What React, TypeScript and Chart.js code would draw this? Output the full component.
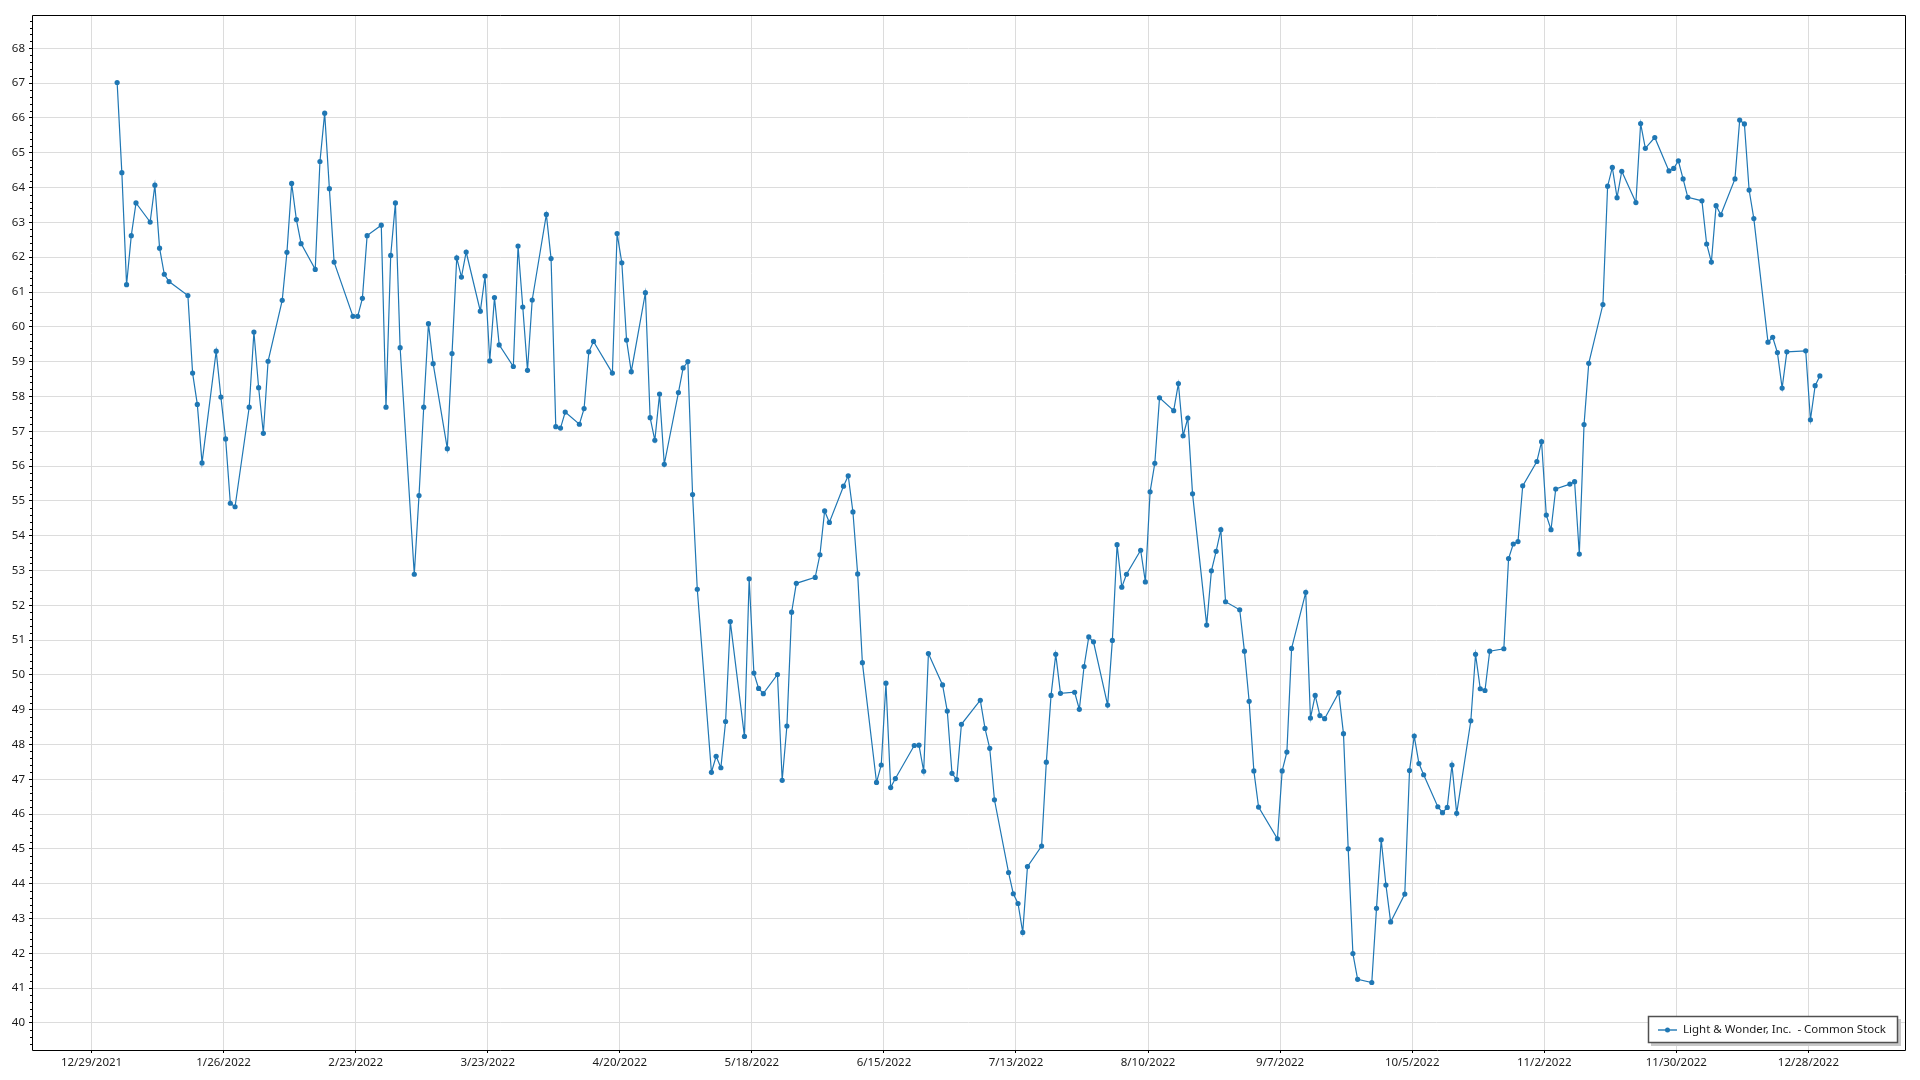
import React, { useEffect, useRef } from "react";
import { Chart, registerables } from "chart.js";

Chart.register(...registerables);

const SERIES_LABEL = "Light & Wonder, Inc.  - Common Stock";

const TRADING_DATES: string[] = [
  "2022-01-03","2022-01-04","2022-01-05","2022-01-06","2022-01-07","2022-01-10","2022-01-11","2022-01-12","2022-01-13","2022-01-14",
  "2022-01-18","2022-01-19","2022-01-20","2022-01-21","2022-01-24","2022-01-25","2022-01-26","2022-01-27","2022-01-28","2022-01-31",
  "2022-02-01","2022-02-02","2022-02-03","2022-02-04","2022-02-07","2022-02-08","2022-02-09","2022-02-10","2022-02-11","2022-02-14",
  "2022-02-15","2022-02-16","2022-02-17","2022-02-18","2022-02-22","2022-02-23","2022-02-24","2022-02-25","2022-02-28",
  "2022-03-01","2022-03-02","2022-03-03","2022-03-04","2022-03-07","2022-03-08","2022-03-09","2022-03-10","2022-03-11","2022-03-14",
  "2022-03-15","2022-03-16","2022-03-17","2022-03-18","2022-03-21","2022-03-22","2022-03-23","2022-03-24","2022-03-25","2022-03-28",
  "2022-03-29","2022-03-30","2022-03-31",
  "2022-04-01","2022-04-04","2022-04-05","2022-04-06","2022-04-07","2022-04-08","2022-04-11","2022-04-12","2022-04-13","2022-04-14",
  "2022-04-18","2022-04-19","2022-04-20","2022-04-21","2022-04-22","2022-04-25","2022-04-26","2022-04-27","2022-04-28","2022-04-29",
  "2022-05-02","2022-05-03","2022-05-04","2022-05-05","2022-05-06","2022-05-09","2022-05-10","2022-05-11","2022-05-12","2022-05-13",
  "2022-05-16","2022-05-17","2022-05-18","2022-05-19","2022-05-20","2022-05-23","2022-05-24","2022-05-25","2022-05-26","2022-05-27",
  "2022-05-31",
  "2022-06-01","2022-06-02","2022-06-03","2022-06-06","2022-06-07","2022-06-08","2022-06-09","2022-06-10","2022-06-13","2022-06-14",
  "2022-06-15","2022-06-16","2022-06-17","2022-06-21","2022-06-22","2022-06-23","2022-06-24","2022-06-27","2022-06-28","2022-06-29",
  "2022-06-30",
  "2022-07-01","2022-07-05","2022-07-06","2022-07-07","2022-07-08","2022-07-11","2022-07-12","2022-07-13","2022-07-14","2022-07-15",
  "2022-07-18","2022-07-19","2022-07-20","2022-07-21","2022-07-22","2022-07-25","2022-07-26","2022-07-27","2022-07-28","2022-07-29",
  "2022-08-01","2022-08-02","2022-08-03","2022-08-04","2022-08-05","2022-08-08","2022-08-09","2022-08-10","2022-08-11","2022-08-12",
  "2022-08-15","2022-08-16","2022-08-17","2022-08-18","2022-08-19","2022-08-22","2022-08-23","2022-08-24","2022-08-25","2022-08-26",
  "2022-08-29","2022-08-30","2022-08-31",
  "2022-09-01","2022-09-02","2022-09-06","2022-09-07","2022-09-08","2022-09-09","2022-09-12","2022-09-13","2022-09-14","2022-09-15",
  "2022-09-16","2022-09-19","2022-09-20","2022-09-21","2022-09-22","2022-09-23","2022-09-26","2022-09-27","2022-09-28","2022-09-29",
  "2022-09-30",
  "2022-10-03","2022-10-04","2022-10-05","2022-10-06","2022-10-07","2022-10-10","2022-10-11","2022-10-12","2022-10-13","2022-10-14",
  "2022-10-17","2022-10-18","2022-10-19","2022-10-20","2022-10-21","2022-10-24","2022-10-25","2022-10-26","2022-10-27","2022-10-28",
  "2022-10-31",
  "2022-11-01","2022-11-02","2022-11-03","2022-11-04","2022-11-07","2022-11-08","2022-11-09","2022-11-10","2022-11-11","2022-11-14",
  "2022-11-15","2022-11-16","2022-11-17","2022-11-18","2022-11-21","2022-11-22","2022-11-23","2022-11-25","2022-11-28","2022-11-29",
  "2022-11-30",
  "2022-12-01","2022-12-02","2022-12-05","2022-12-06","2022-12-07","2022-12-08","2022-12-09","2022-12-12","2022-12-13","2022-12-14",
  "2022-12-15","2022-12-16","2022-12-19","2022-12-20","2022-12-21","2022-12-22","2022-12-23","2022-12-27","2022-12-28","2022-12-29",
  "2022-12-30",
];

const CLOSE_PRICES: number[] = [
  // Jan
  67.02, 64.43, 61.21, 62.62, 63.56, 63.01, 64.07, 62.26, 61.51, 61.30,
  60.90, 58.67, 57.77, 56.09, 59.30, 57.98, 56.78, 54.93, 54.83, 57.69,
  // Feb
  59.85, 58.25, 56.94, 59.01, 60.76, 62.14, 64.12, 63.08, 62.39, 61.65,
  64.75, 66.14, 63.97, 61.86, 60.30, 60.30, 60.82, 62.62, 62.92,
  // Mar
  57.69, 62.05, 63.56, 59.40, 52.89, 55.15, 57.69, 60.09, 58.94, 56.50,
  59.23, 61.98, 61.43, 62.15, 60.45, 61.46, 59.02, 60.84, 59.48, 58.86,
  62.32, 60.57, 58.75,
  // Apr
  60.77, 63.23, 61.96, 57.13, 57.09, 57.55, 57.20, 57.65, 59.28, 59.58,
  58.67, 62.68, 61.84, 59.62, 58.71, 60.98, 57.39, 56.74, 58.07, 56.05,
  // May
  58.11, 58.82, 59.00, 55.18, 52.46, 47.20, 47.66, 47.33, 48.66, 51.53,
  48.23, 52.76, 50.05, 49.61, 49.46, 50.01, 46.97, 48.53, 51.80, 52.63,
  52.80,
  // Jun
  53.45, 54.71, 54.38, 55.42, 55.72, 54.68, 52.90, 50.35, 46.91, 47.41,
  49.76, 46.76, 47.02, 47.97, 47.98, 47.23, 50.61, 49.71, 48.96, 47.17,
  46.99,
  // Jul
  48.58, 49.27, 48.46, 47.89, 46.41, 44.32, 43.71, 43.43, 42.60, 44.49,
  45.08, 47.49, 49.41, 50.59, 49.47, 49.50, 49.01, 50.24, 51.09, 50.95,
  // Aug
  49.13, 50.99, 53.74, 52.52, 52.89, 53.58, 52.67, 55.26, 56.08, 57.96,
  57.59, 58.37, 56.87, 57.38, 55.20, 51.43, 52.99, 53.55, 54.17, 52.10,
  51.87, 50.68, 49.24,
  // Sep
  47.24, 46.20, 45.29, 47.24, 47.78, 50.76, 52.37, 48.76, 49.41, 48.83,
  48.74, 49.49, 48.31, 45.00, 41.99, 41.25, 41.16, 43.29, 45.26, 43.96,
  42.90,
  // Oct
  43.70, 47.25, 48.24, 47.45, 47.13, 46.21, 46.04, 46.19, 47.41, 46.02,
  48.68, 50.59, 49.60, 49.55, 50.68, 50.75, 53.34, 53.76, 53.83, 55.43,
  56.13,
  // Nov
  56.70, 54.59, 54.17, 55.34, 55.48, 55.55, 53.47, 57.19, 58.95, 60.64,
  64.04, 64.58, 63.71, 64.47, 63.57, 65.84, 65.13, 65.44, 64.48, 64.55,
  64.77,
  // Dec
  64.25, 63.72, 63.62, 62.38, 61.86, 63.48, 63.22, 64.25, 65.94, 65.83,
  63.93, 63.11, 59.56, 59.70, 59.26, 58.24, 59.28, 59.31, 57.33, 58.31,
  58.59,
];

const X_TICK_DATES: string[] = [
  "2021-12-29","2022-01-26","2022-02-23","2022-03-23","2022-04-20","2022-05-18","2022-06-15",
  "2022-07-13","2022-08-10","2022-09-07","2022-10-05","2022-11-02","2022-11-30","2022-12-28",
];

const Y_TICKS: number[] = [
  40, 41, 42, 43, 44, 45, 46, 47, 48, 49, 50, 51, 52, 53, 54, 55, 56, 57, 58, 59, 60, 61, 62, 63, 64, 65, 66, 67, 68,
];

const EPOCH = Date.UTC(2021, 11, 29);
const DAY_MS = 86400000;
const POINT_TIME_SHIFT = 0.43; // sample time of day
const dayOf = (s: string) => (Date.parse(s + "T00:00:00Z") - EPOCH) / DAY_MS;
const fmtDay = (d: number) => {
  const dt = new Date(EPOCH + Math.round(d) * DAY_MS);
  return `${dt.getUTCMonth() + 1}/${dt.getUTCDate()}/${dt.getUTCFullYear()}`;
};

const LINE_COLOR = "#1f77b4";
const FONT_FAMILY = "'Noto Sans', 'Open Sans', sans-serif";
const FONT_SIZE = 11.5;
const TEXT_COLOR = "#1a1a1a";

export default function App() {
  const ref = useRef<HTMLCanvasElement | null>(null);

  useEffect(() => {
    document.body.style.margin = "0";
    const canvas = ref.current;
    if (!canvas) return;

    const points = TRADING_DATES.map((d, i) => ({ x: dayOf(d) + POINT_TIME_SHIFT, y: CLOSE_PRICES[i] }));
    const xs = points.map((p) => p.x);
    const ys = points.map((p) => p.y);
    const xMinD = Math.min(...xs), xMaxD = Math.max(...xs);
    const yMinD = Math.min(...ys), yMaxD = Math.max(...ys);
    const xPad = (xMaxD - xMinD) * 0.05;
    const yPad = (yMaxD - yMinD) * 0.075;

    const framePlugin = {
      id: "frameAndLegend",
      afterDraw(chart: any) {
        const { ctx, chartArea } = chart;
        const { left, right, top, bottom } = chartArea;
        ctx.save();
        // minor ticks on y axis
        const yScale = chart.scales.y;
        ctx.strokeStyle = "#000";
        ctx.lineWidth = 1;
        ctx.beginPath();
        const start = Math.ceil(yScale.min * 5);
        const end = Math.floor(yScale.max * 5);
        for (let k = start; k <= end; k++) {
          if (k % 5 === 0) continue;
          const py = Math.round(yScale.getPixelForValue(k / 5)) + 0.5;
          ctx.moveTo(left - 2, py);
          ctx.lineTo(left, py);
        }
        ctx.stroke();
        // frame
        ctx.beginPath();
        ctx.rect(Math.round(left) + 0.5, Math.round(top) + 0.5, Math.round(right - left), Math.round(bottom - top));
        ctx.stroke();

        // legend
        const lx = 1648, ly = 1016, lw = 250, lh = 27;
        ctx.fillStyle = "#c8c8c8";
        ctx.fillRect(lx + 3, ly + 3, lw, lh);
        ctx.fillStyle = "#ffffff";
        ctx.fillRect(lx, ly, lw, lh);
        ctx.strokeStyle = "#505050";
        ctx.lineWidth = 1.5;
        ctx.strokeRect(lx + 0.5, ly + 0.5, lw - 1, lh - 1);
        const my = ly + 14;
        ctx.strokeStyle = "rgba(31,119,180,0.7)";
        ctx.lineWidth = 2;
        ctx.beginPath();
        ctx.moveTo(lx + 10, my);
        ctx.lineTo(lx + 29, my);
        ctx.stroke();
        ctx.fillStyle = LINE_COLOR;
        ctx.beginPath();
        ctx.arc(lx + 19.5, my, 2.5, 0, Math.PI * 2);
        ctx.fill();
        ctx.fillStyle = TEXT_COLOR;
        ctx.font = `${FONT_SIZE}px ${FONT_FAMILY}`;
        ctx.textBaseline = "middle";
        ctx.textAlign = "left";
        ctx.fillText(chart.data.datasets[0].label, lx + 35, my);
        ctx.restore();
      },
    };

    const chart = new Chart(canvas, {
      type: "line",
      data: {
        datasets: [
          {
            label: SERIES_LABEL,
            data: points,
            borderColor: LINE_COLOR,
            backgroundColor: LINE_COLOR,
            borderWidth: 1.2,
            pointRadius: 2.6,
            pointBorderWidth: 0,
            pointBackgroundColor: LINE_COLOR,
            tension: 0,
            fill: false,
          },
        ],
      },
      options: {
        animation: false,
        responsive: false,
        devicePixelRatio: 1,
        parsing: false,
        layout: { padding: { left: 0, top: 15, right: 15, bottom: 0 } },
        plugins: { legend: { display: false }, tooltip: { enabled: false } },
        scales: {
          x: {
            type: "linear",
            min: xMinD - xPad,
            max: xMaxD + xPad,
            border: { display: false },
            grid: { color: "#dcdcdc", lineWidth: 1, drawTicks: true, tickLength: 3, tickColor: "#000" },
            ticks: {
              color: TEXT_COLOR,
              font: { family: FONT_FAMILY, size: FONT_SIZE },
              padding: 3,
              maxRotation: 0,
              autoSkip: false,
              callback: (v: any) => fmtDay(Number(v)),
            },
            afterBuildTicks: (s: any) => {
              s.ticks = X_TICK_DATES.map((d) => ({ value: dayOf(d) }));
            },
            afterFit: (s: any) => {
              s.height = 30;
            },
          },
          y: {
            type: "linear",
            min: yMinD - yPad,
            max: yMaxD + yPad,
            border: { display: false },
            grid: { color: "#dcdcdc", lineWidth: 1, drawTicks: true, tickLength: 3, tickColor: "#000" },
            ticks: {
              color: TEXT_COLOR,
              font: { family: FONT_FAMILY, size: FONT_SIZE },
              padding: 4,
              autoSkip: false,
              callback: (v: any) => String(v),
            },
            afterBuildTicks: (s: any) => {
              s.ticks = Y_TICKS.map((v) => ({ value: v }));
            },
            afterFit: (s: any) => {
              s.width = 32;
            },
          },
        },
      },
      plugins: [framePlugin],
    } as any);

    return () => chart.destroy();
  }, []);

  return (
    <div style={{ position: "fixed", left: 0, top: 0, width: 1920, height: 1080, background: "#fff" }}>
      <canvas ref={ref} width={1920} height={1080} style={{ display: "block", width: 1920, height: 1080 }} />
    </div>
  );
}
